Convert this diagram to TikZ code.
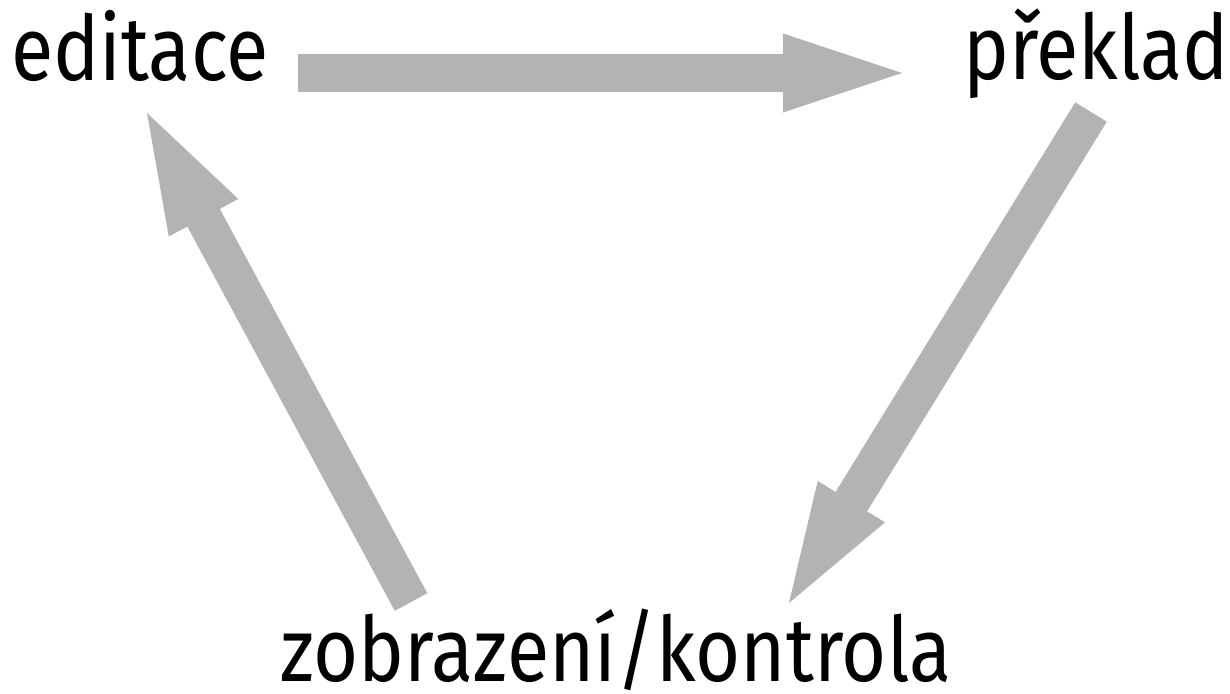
\documentclass[tikz,border=0pt]{standalone}
\usepackage{fontspec}
\setmainfont[FakeStretch=0.86]{Fira Sans}
\usepackage{tikz}
\usetikzlibrary{positioning,arrows.meta}
\definecolor{arrowcolor}{RGB}{179, 179, 179}
\tikzset{
    stage/.style={inner sep=0pt, anchor=base west, font=\fontsize{90}{108}\selectfont},
    flow arrow/.style={-{Triangle[length=119pt, width=79pt, line width=0pt]}, line width=37pt, draw=arrowcolor}
}

\begin{document}
\begin{tikzpicture}[x=1pt, y=-1pt]
    % canvas of the same size as the reference
    \useasboundingbox (0,0) rectangle (1230,693);

    % The three stages of the cycle
    \node[stage] (edit) at (11,80) {editace};
    \node[stage] (compile) at (963,79) {překlad};
    \node[stage] (view) at (280,681) {zobrazení/kontrola};

    % Ends of the arrows between the stages
    \coordinate (editOut) at (298,73);
    \coordinate (compileIn) at (902,73);
    \coordinate (compileOut) at (1091,112);
    \coordinate (viewIn) at (789,603);
    \coordinate (viewOut) at (411,602);
    \coordinate (editIn) at (147,113);

    % Cycle arrows
    \draw[flow arrow] (editOut) -- (compileIn);
    \draw[flow arrow] (compileOut) -- (viewIn);
    \draw[flow arrow] (viewOut) -- (editIn);
\end{tikzpicture}
\end{document}
